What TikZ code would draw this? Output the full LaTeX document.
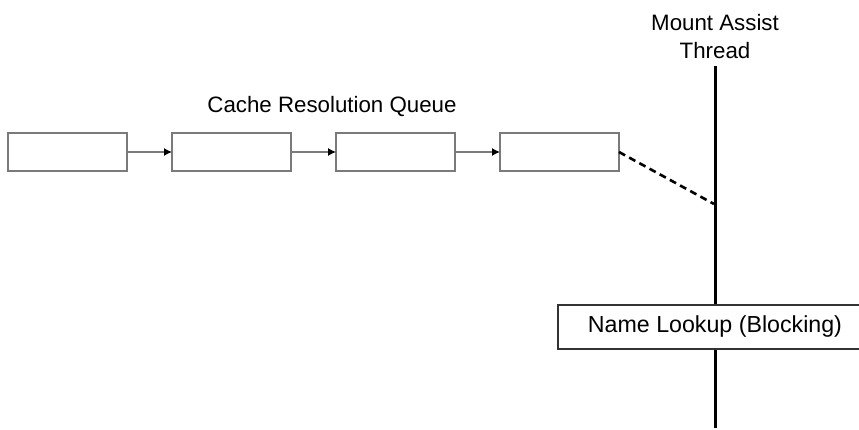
\documentclass[tikz,border=0pt]{standalone}
\usepackage{fontspec}
\setmainfont{Liberation Sans}
\usepackage{xcolor}
\usetikzlibrary{arrows.meta,positioning}
\definecolor{boxGray}{HTML}{7A7A7A}

\begin{document}
\begin{tikzpicture}[x=1pt, y=-1pt, font=\fontsize{22.3}{28}\selectfont, >={Latex[length=8pt,width=8pt,black]},
  qbox/.style={draw=boxGray, line width=1.6pt, fill=white, minimum width=119pt, minimum height=38pt, inner sep=0pt, outer sep=0pt},
  qlink/.style={->, draw=boxGray, line width=1.3pt}]
\clip (0,0) rectangle (859,430);
\useasboundingbox (0,0) rectangle (859,430);
% queue of entries
\node[qbox] (q1) at (67.5,152) {};
\node[qbox, right=45pt of q1] (q2) {};
\node[qbox, right=45pt of q2] (q3) {};
\node[qbox, right=45pt of q3] (q4) {};
\foreach \a/\b in {q1/q2,q2/q3,q3/q4}{\draw[qlink] (\a) -- (\b);}
\node (qlabel) at (332,107) {Cache Resolution Queue};
% the thread
\coordinate (thrtop) at (715,66);
\coordinate (thrbot) at (715,428);
\coordinate (thrhit) at (714,204);
\draw[line width=3pt] (thrtop) -- (thrbot);
\node[align=center] (thrlabel) at (715,37) {Mount Assist\\Thread};
\draw[line width=2.6pt, dash pattern=on 7pt off 4.6pt] (q4.east) -- (thrhit);
\node[draw=black!80, line width=1.2pt, fill=white, minimum width=314pt, minimum height=44pt, font=\fontsize{23.2}{28}\selectfont] (lookup) at (715,327) {Name Lookup (Blocking)};
\end{tikzpicture}
\end{document}
